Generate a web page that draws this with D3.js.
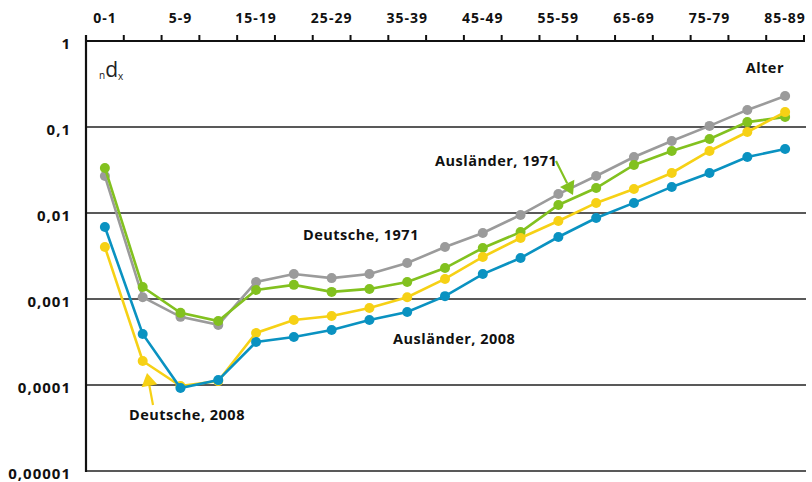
<!DOCTYPE html>
<html>
<head>
<meta charset="utf-8">
<script src="https://cdn.jsdelivr.net/npm/d3@7"></script>
<style>
  body { margin: 0; background: #fff; }
  svg { display: block; font-family: "Open Sans", sans-serif; }
</style>
</head>
<body>
<svg width="812" height="482"></svg>
<script>
var ages = ["0-1","1-4","5-9","10-14","15-19","20-24","25-29","30-34","35-39","40-44",
            "45-49","50-54","55-59","60-64","65-69","70-74","75-79","80-84","85-89"]
var ageLabels = ["0-1","5-9","15-19","25-29","35-39","45-49","55-59","65-69","75-79","85-89"]
var yTicks = [1, 0.1, 0.01, 0.001, 0.0001, 0.00001]
var yTickLabels = ["1","0,1","0,01","0,001","0,0001","0,00001"]

// Sterbewahrscheinlichkeit nach Altersgruppe
var deutsche1971 = [0.0269,0.00105,0.00062,0.0005,0.00158,0.00195,0.00175,0.00195,0.00262,0.00402,
                    0.00585,0.0095,0.0166,0.0269,0.0448,0.0688,0.103,0.158,0.229]
var auslaender1971 = [0.0334,0.00138,0.00069,0.000555,0.00127,0.00146,0.00121,0.00131,0.00158,0.00229,
                      0.00392,0.006,0.0124,0.0195,0.0362,0.0526,0.0725,0.114,0.131]
var deutsche2008 = [0.00402,0.00019,0.0000973,0.000111,0.000403,0.00057,0.000634,0.000786,0.00105,0.00171,
                    0.00308,0.00512,0.00807,0.0131,0.019,0.0292,0.0526,0.0875,0.149]
var auslaender2008 = [0.00687,0.000392,0.0000923,0.000114,0.000316,0.000361,0.000436,0.00057,0.000706,0.00108,
                      0.00195,0.003,0.00526,0.00875,0.0131,0.0201,0.0292,0.0448,0.0555]

var series = [
  {name:"Deutsche, 1971", values: deutsche1971, color:"#9b9b9b"},
  {name:"Ausländer, 1971", values: auslaender1971, color:"#82c11f"},
  {name:"Deutsche, 2008", values: deutsche2008, color:"#f6d115"},
  {name:"Ausländer, 2008", values: auslaender2008, color:"#0a92c1"}
]

const svg = d3.select("svg")
const mLeft = 86, mRight = 804, mTop = 41, mBottom = 471

const x = d3.scaleBand().domain(ages).range([mLeft, mRight]).padding(0)
const y = d3.scaleLog().domain([0.00001, 1]).range([mBottom, mTop])

// gridlines
svg.append("g")
  .selectAll("line")
  .data(yTicks.slice(1))
  .join("line")
  .attr("x1", mLeft).attr("x2", mRight + 2)
  .attr("y1", d => y(d)).attr("y2", d => y(d))
  .attr("stroke", "#222").attr("stroke-width", 1.3)

// y labels
svg.append("g")
  .selectAll("text")
  .data(yTicks)
  .join("text")
  .attr("x", 71)
  .attr("y", d => y(d) + 7.5)
  .attr("text-anchor", "end")
  .style("font-weight", 700).style("font-size", "15px")
  .style("letter-spacing", "1px")
  .attr("fill", "#111")
  .text((d, i) => yTickLabels[i])

// top axis, labels at band centers
const axis = svg.append("g")
  .attr("transform", `translate(0,${mTop})`)
  .call(d3.axisTop(x).tickValues(ageLabels).tickSize(0).tickPadding(18))
axis.select(".domain").remove()
axis.selectAll("text")
  .style("font-family", "'Open Sans', sans-serif")
  .style("font-weight", 700).style("font-size", "14px")
  .style("letter-spacing", "1px")
  .attr("fill", "#111")

// tick marks at band edges
var edges = ages.map(d => x(d)).concat([x.range()[1]])
svg.append("g")
  .selectAll("line")
  .data(edges)
  .join("line")
  .attr("x1", d => d).attr("x2", d => d)
  .attr("y1", mTop - 6).attr("y2", mTop)
  .attr("stroke", "#111").attr("stroke-width", 2)

svg.append("line")
  .attr("x1", mLeft - 1).attr("x2", mRight + 1)
  .attr("y1", mTop).attr("y2", mTop)
  .attr("stroke", "#111").attr("stroke-width", 2.2)
svg.append("line")
  .attr("x1", mLeft).attr("x2", mLeft)
  .attr("y1", mTop - 6).attr("y2", mBottom + 1)
  .attr("stroke", "#111").attr("stroke-width", 2.2)

// lines and dots
const line = d3.line()
  .x((d, i) => x(ages[i]) + x.bandwidth() / 2)
  .y(d => y(d))

const s = svg.append("g").selectAll("g")
  .data(series)
  .join("g")

s.append("path")
  .attr("d", d => line(d.values))
  .attr("fill", "none")
  .attr("stroke", d => d.color)
  .attr("stroke-width", 2.6)

s.selectAll("circle")
  .data(d => d.values.map(v => ({v: v, color: d.color})))
  .join("circle")
  .attr("cx", (d, i) => x(ages[i]) + x.bandwidth() / 2)
  .attr("cy", d => y(d.v))
  .attr("r", 5)
  .attr("fill", d => d.color)

// annotations
function label(txt, tx, ty, anchor) {
  svg.append("text")
    .attr("x", tx).attr("y", ty)
    .attr("text-anchor", anchor || "start")
    .style("font-weight", 700).style("font-size", "14.5px")
    .style("letter-spacing", "0.5px")
    .attr("fill", "#111")
    .text(txt)
}
label("Deutsche, 1971", 303, 240)
label("Ausländer, 1971", 435, 166)
label("Ausländer, 2008", 393, 344)
label("Deutsche, 2008", 129, 420)
label("Alter", 784, 73, "end")

function arrow(x1, y1, x2, y2, color) {
  var ang = Math.atan2(y2 - y1, x2 - x1)
  var len = 13, w = 8
  var bx = x2 - Math.cos(ang) * len, by = y2 - Math.sin(ang) * len
  svg.append("line")
    .attr("x1", x1).attr("y1", y1).attr("x2", bx).attr("y2", by)
    .attr("stroke", color).attr("stroke-width", 2.2)
  var px = -Math.sin(ang) * w, py = Math.cos(ang) * w
  svg.append("path")
    .attr("d", d3.line()([[x2, y2], [bx + px, by + py], [bx - px, by - py]]))
    .attr("fill", color)
}
arrow(556, 161, 573, 195, "#82c11f")
arrow(153, 405, 147, 373, "#f6d115")

// nd_x
var lab = svg.append("text").attr("x", 99).attr("y", 77).attr("fill", "#222")
lab.append("tspan").style("font-size", "10px").attr("dy", 2).text("n")
lab.append("tspan").style("font-size", "21px").attr("dy", -2).text("d")
lab.append("tspan").style("font-size", "10px").attr("dy", 3).text("x")
</script>
</body>
</html>
